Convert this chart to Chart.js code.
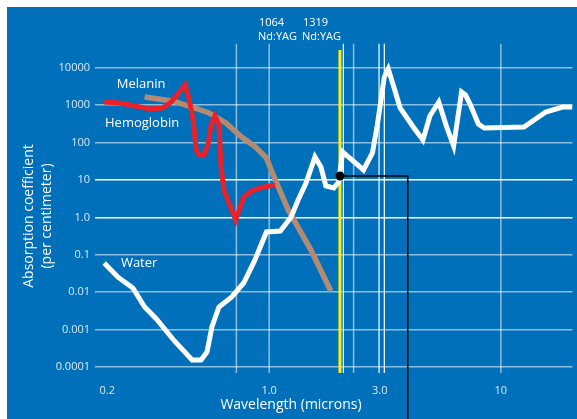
<!DOCTYPE html>
<html>
<head>
<meta charset="utf-8">
<script src="https://cdn.jsdelivr.net/npm/chart.js@4.4.0/dist/chart.umd.min.js"></script>
<style>
  html, body { margin: 0; padding: 0; background: #fff; }
  #wrap { width: 577px; height: 419px; }
</style>
</head>
<body>
<div id="wrap"><canvas id="absChart"></canvas></div>
<script>
// axis ticks
const xTicks = [0.2, 1, 3, 10];
const xTickLabels = ['0.2', '1.0', '3.0', '10'];
const yTicks = [0.0001, 0.001, 0.01, 0.1, 1, 10, 100, 1000, 10000];
const yTickLabels = ['0.0001', '0.001', '0.01', '0.1', '1.0', '10', '100', '1000', '10000'];

// absorption curves (wavelength in microns, coefficient per cm)
const hemoWl  = [0.194, 0.227, 0.263, 0.305, 0.346, 0.378, 0.409, 0.434, 0.452, 0.470, 0.484, 0.498, 0.523, 0.544, 0.561, 0.583, 0.607, 0.619, 0.637, 0.717, 0.776, 0.839, 0.945, 1.063];
const hemoAbs = [1218, 1145, 952, 791, 842, 1218, 2254, 3467, 1377, 402, 63.4, 46.6, 46.6, 86.3, 296, 514, 296, 25.2, 5.4, 0.852, 3.51, 5.08, 6.5, 7.35];

const melWl  = [0.290, 0.382, 0.465, 0.550, 0.650, 0.761, 0.873, 0.973, 1.063, 1.208, 1.515, 1.845];
const melAbs = [1657, 1295, 895, 618, 334, 141, 76.3, 38.7, 10, 1.58, 0.134, 0.0108];

const waterWl  = [0.194, 0.222, 0.258, 0.290, 0.326, 0.390, 0.465, 0.508, 0.539, 0.566, 0.607, 0.689, 0.776, 0.864, 0.973, 1.117, 1.244, 1.333, 1.442, 1.576, 1.672, 1.756, 1.900, 1.995, 2.076, 2.553, 2.790, 2.930, 3.140, 3.265, 3.463, 3.674, 4.218, 4.608, 4.938, 5.395, 5.836, 6.254, 6.766, 7.037, 7.392, 7.998, 8.483, 12.58, 15.62, 18.47, 20.38];
const waterAbs = [0.0604, 0.0255, 0.0130, 0.00402, 0.00192, 0.000496, 0.000154, 0.000154, 0.000252, 0.00117, 0.00402, 0.00744, 0.0176, 0.0683, 0.407, 0.433, 1.025, 2.92, 8.31, 41.2, 22.3, 6.91, 6.11, 8.84, 56.1, 18.5, 52.7, 296, 5675, 9289, 2884, 842, 246, 117, 515, 1218, 261, 81.1, 2254, 1874, 1012, 314, 246, 261, 658, 895, 895];

// laser wavelength markers
const paleLines = [0.722, 1, 2.314, 10];
const brightLines = [2.09, 2.98, 3.14];
const yagWl = 2.021;
const markerAbs = 12.8;
const cutoffWl = 3.965;

const yMin = 6.9e-5, yMax = 44630;
const xMin = 0.1771, xMax = 20.38;
const belowChart = 2.8e-6;

function pairs(xs, ys) {
    return xs.map((x, i) => ({ x: x, y: ys[i] }));
}

function vLine(wl, color, width, order) {
    return {
        data: [{ x: wl, y: yMax }, { x: wl, y: yMin }],
        borderColor: color,
        borderWidth: width,
        order: order
    };
}

const datasets = [];
paleLines.forEach(wl => datasets.push(vLine(wl, 'rgba(255,255,255,0.55)', 1.5, 10)));
brightLines.forEach(wl => datasets.push(vLine(wl, '#ffffff', 1.2, 10)));
datasets.push({
    data: [{ x: yagWl, y: 30000 }, { x: yagWl, y: yMin }],
    borderColor: '#FFF200',
    borderWidth: 3,
    order: 6
});
datasets.push({ data: pairs(melWl, melAbs), borderColor: '#B38A72', borderWidth: 5.5, order: 8 });
datasets.push({ data: pairs(hemoWl, hemoAbs), borderColor: '#E8212A', borderWidth: 5, order: 7 });
datasets.push({ data: pairs(waterWl, waterAbs), borderColor: '#ffffff', borderWidth: 5, order: 5 });
datasets.push({
    data: [{ x: yagWl, y: markerAbs }, { x: cutoffWl, y: markerAbs }, { x: cutoffWl, y: belowChart }],
    borderColor: '#000000',
    borderWidth: 1.5,
    borderJoinStyle: 'miter',
    clip: false,
    order: 2
});
datasets.push({
    data: [{ x: yagWl, y: markerAbs }],
    showLine: false,
    pointRadius: 4.5,
    pointBackgroundColor: '#000',
    pointBorderWidth: 0,
    order: 1
});

const FONT = "'Open Sans', 'Noto Sans', sans-serif";

const backdrop = {
    id: 'backdrop',
    beforeDraw(chart) {
        const ctx = chart.ctx;
        ctx.save();
        ctx.fillStyle = '#ffffff';
        ctx.fillRect(0, 0, chart.width, chart.height);
        ctx.fillStyle = '#0070BA';
        ctx.fillRect(7, 7, chart.width - 7, chart.height - 7);
        ctx.restore();
    }
};

const labels = {
    id: 'labels',
    afterDraw(chart) {
        const ctx = chart.ctx;
        const xs = chart.scales.x, ys = chart.scales.y;
        ctx.save();
        ctx.fillStyle = '#ffffff';
        ctx.textBaseline = 'middle';

        // curve names
        ctx.font = '13px ' + FONT;
        ctx.textAlign = 'center';
        ctx.fillText('Melanin', xs.getPixelForValue(0.280), ys.getPixelForValue(3690));
        ctx.fillText('Hemoglobin', xs.getPixelForValue(0.2828), ys.getPixelForValue(334));
        ctx.fillText('Water', xs.getPixelForValue(0.2746), ys.getPixelForValue(0.0604));

        // laser labels
        ctx.font = '11px ' + FONT;
        ctx.textAlign = 'left';
        ctx.fillText('1064', 259, 23);
        ctx.fillText('Nd:YAG', 258, 37);
        ctx.fillText('1319', 303, 23);
        ctx.fillText('Nd:YAG', 302, 37);

        // axis titles
        ctx.font = '14px ' + FONT;
        ctx.textAlign = 'center';
        ctx.fillText('Wavelength (microns)', 291, 405);
        ctx.translate(29, 216);
        ctx.rotate(-Math.PI / 2);
        ctx.fillText('Absorption coefficient', 0, 0);
        ctx.fillText('(per centimeter)', 0, 18);
        ctx.restore();
    }
};

new Chart(document.getElementById('absChart').getContext('2d'), {
    type: 'line',
    plugins: [backdrop, labels],
    data: { datasets: datasets },
    options: {
        responsive: true,
        maintainAspectRatio: false,
        animation: false,
        events: [],
        layout: { padding: { top: 43.5, left: 0, right: 0, bottom: 0 } },
        elements: {
            point: { radius: 0 },
            line: { tension: 0, fill: false, borderCapStyle: 'butt' }
        },
        plugins: {
            legend: { display: false },
            tooltip: { enabled: false }
        },
        scales: {
            x: {
                type: 'logarithmic',
                min: xMin,
                max: xMax,
                afterBuildTicks: (scale) => { scale.ticks = xTicks.map(v => ({ value: v })); },
                afterFit: (scale) => { scale.height = 46; },
                grid: { display: false },
                border: { display: false },
                ticks: {
                    autoSkip: false,
                    maxRotation: 0,
                    padding: 3,
                    color: 'rgba(255,255,255,0.85)',
                    font: { family: FONT, size: 11 },
                    callback: (v, i) => xTickLabels[i]
                }
            },
            y: {
                type: 'logarithmic',
                min: yMin,
                max: yMax,
                afterBuildTicks: (scale) => { scale.ticks = yTicks.map(v => ({ value: v })); },
                afterFit: (scale) => { scale.width = 95; },
                grid: {
                    drawTicks: false,
                    lineWidth: 1.5,
                    color: (c) => (c.tick && (c.tick.value === 10 || c.tick.value === 1)) ? '#ffffff' : 'rgba(255,255,255,0.55)'
                },
                border: { display: false },
                ticks: {
                    autoSkip: false,
                    padding: 5,
                    color: 'rgba(255,255,255,0.85)',
                    font: { family: FONT, size: 11 },
                    callback: (v, i) => yTickLabels[i]
                }
            }
        }
    }
});
</script>
</body>
</html>
